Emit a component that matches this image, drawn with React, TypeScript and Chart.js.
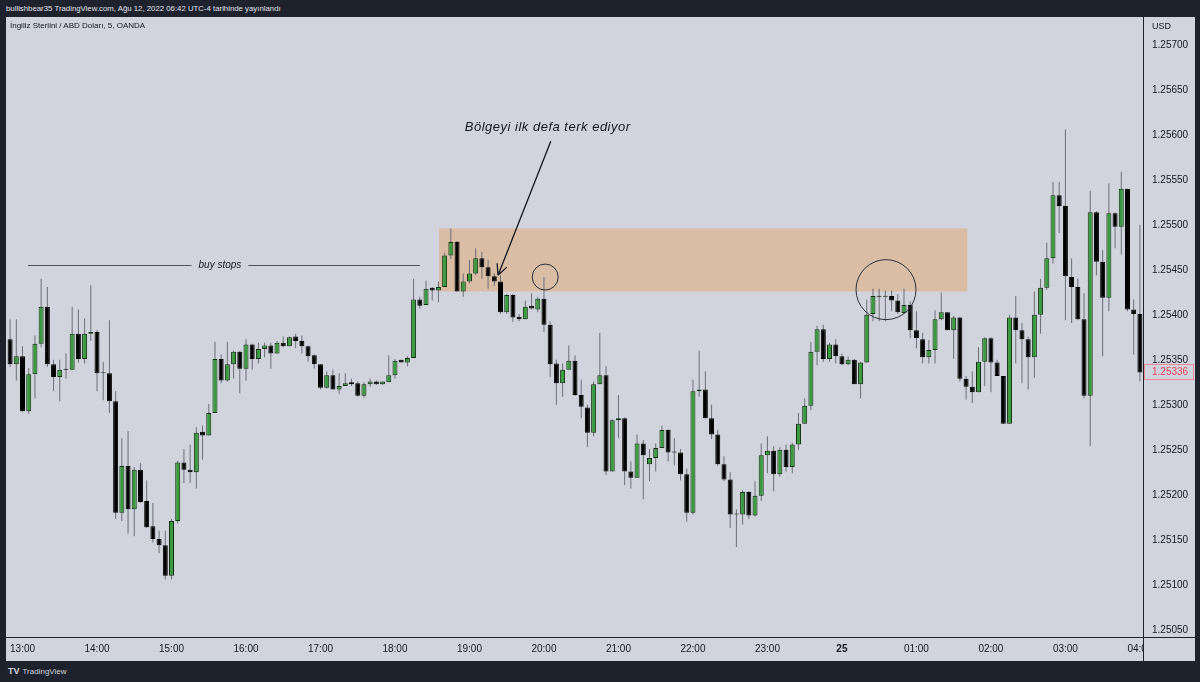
import React, { useEffect, useRef } from "react";
import { Chart, registerables } from "chart.js";
Chart.register(...registerables);

const FONT = "Liberation Sans";

// ---- data (GBP/USD, 5 min, 12:50 -> 04:00) ----
const START_TIME = "12:50";
const STEP_MINUTES = 5;

const opens = [
  1.25373, 1.25345, 1.25354, 1.25293, 1.25334, 1.25368, 1.25409, 1.25345, 1.25331, 1.2534,
  1.25339, 1.25379, 1.25351, 1.25379, 1.25381, 1.25335, 1.25335, 1.25304, 1.2518, 1.25232,
  1.25184, 1.25228, 1.25193, 1.25165, 1.25151, 1.25144, 1.2511, 1.25171, 1.25236, 1.25228,
  1.25225, 1.2527, 1.25266, 1.25291, 1.25351, 1.25327, 1.25345, 1.25359, 1.2534, 1.25367,
  1.25351, 1.25362, 1.25366, 1.25357, 1.25369, 1.25365, 1.25376, 1.25371, 1.25365, 1.25355,
  1.25345, 1.25319, 1.25333, 1.25317, 1.25321, 1.25325, 1.25324, 1.2531, 1.25323, 1.25326,
  1.25323, 1.25325, 1.25333, 1.2535, 1.25347, 1.25352, 1.25417, 1.25411, 1.2543, 1.25427,
  1.25431, 1.25466, 1.25481, 1.25426, 1.25437, 1.25446, 1.25463, 1.25453, 1.25443, 1.25437,
  1.25403, 1.25422, 1.25398, 1.25395, 1.2541, 1.25406, 1.25418, 1.25389, 1.25346, 1.25324,
  1.25339, 1.25349, 1.25311, 1.25297, 1.25269, 1.25323, 1.25333, 1.25226, 1.25283, 1.25285,
  1.25226, 1.25219, 1.25257, 1.25234, 1.25241, 1.25252, 1.25272, 1.25248, 1.25247, 1.25223,
  1.2518, 1.25315, 1.25317, 1.25285, 1.25267, 1.25234, 1.25217, 1.25178, 1.25178, 1.25203,
  1.25177, 1.25199, 1.25244, 1.25249, 1.25223, 1.2525, 1.25231, 1.25256, 1.25279, 1.25299,
  1.25359, 1.25384, 1.25351, 1.25367, 1.25354, 1.25345, 1.2535, 1.25323, 1.25347, 1.25401,
  1.25421, 1.2542, 1.25421, 1.25416, 1.25402, 1.25411, 1.25383, 1.25373, 1.25353, 1.25361,
  1.25395, 1.25403, 1.25383, 1.25397, 1.25329, 1.2532, 1.25314, 1.25348, 1.25374, 1.25347,
  1.25332, 1.25279, 1.25397, 1.25383, 1.25373, 1.25353, 1.254, 1.2543, 1.25463, 1.25533,
  1.25521, 1.25442, 1.25431, 1.25395, 1.2531, 1.25514, 1.25459, 1.25419, 1.25513, 1.25498,
  1.2554, 1.25406, 1.25401,
];

const highs = [
  1.25395, 1.25395, 1.25365, 1.25341, 1.25377, 1.2544, 1.25431, 1.2535, 1.2535, 1.25357,
  1.25409, 1.25406, 1.25396, 1.25433, 1.25383, 1.25348, 1.25394, 1.25315, 1.25263, 1.25271,
  1.25231, 1.25235, 1.25216, 1.25191, 1.2516, 1.2516, 1.25173, 1.25238, 1.25251, 1.25256,
  1.25275, 1.25277, 1.25301, 1.2537, 1.25356, 1.2537, 1.2536, 1.2536, 1.25373, 1.25368,
  1.25369, 1.25369, 1.25369, 1.25371, 1.25376, 1.25376, 1.25379, 1.25377, 1.25366, 1.25356,
  1.25345, 1.25337, 1.25339, 1.25335, 1.25335, 1.25329, 1.25326, 1.25325, 1.25329, 1.25327,
  1.25326, 1.25355, 1.25351, 1.2535, 1.25354, 1.2544, 1.2542, 1.25438, 1.25431, 1.25437,
  1.25469, 1.25496, 1.25482, 1.25446, 1.25461, 1.25474, 1.2547, 1.25461, 1.25446, 1.25444,
  1.25423, 1.25423, 1.25401, 1.25416, 1.25424, 1.2542, 1.25442, 1.25393, 1.2535, 1.25346,
  1.25366, 1.25355, 1.25328, 1.253, 1.25326, 1.2538, 1.25343, 1.25284, 1.25311, 1.25286,
  1.25237, 1.25267, 1.25261, 1.25251, 1.25257, 1.25277, 1.25273, 1.25263, 1.25251, 1.25229,
  1.25328, 1.2536, 1.25337, 1.253, 1.25272, 1.25243, 1.25225, 1.25184, 1.25205, 1.25204,
  1.25215, 1.25257, 1.25265, 1.25254, 1.25253, 1.25256, 1.25258, 1.25291, 1.25307, 1.2537,
  1.25388, 1.25389, 1.25369, 1.25373, 1.25357, 1.25354, 1.25351, 1.25348, 1.25417, 1.25429,
  1.25429, 1.25427, 1.25427, 1.25423, 1.25429, 1.25415, 1.25404, 1.2538, 1.25372, 1.25405,
  1.25425, 1.25403, 1.25399, 1.25398, 1.25332, 1.25337, 1.25364, 1.25375, 1.25375, 1.2535,
  1.25332, 1.254, 1.25421, 1.25391, 1.25376, 1.25426, 1.2544, 1.2548, 1.25548, 1.25548,
  1.25606, 1.25463, 1.2544, 1.25424, 1.25538, 1.25515, 1.25472, 1.25546, 1.25514, 1.25559,
  1.2554, 1.25417, 1.255,
];

const lows = [
  1.25342, 1.25327, 1.25292, 1.2529, 1.25307, 1.25364, 1.25342, 1.25315, 1.25304, 1.25329,
  1.25339, 1.25347, 1.25346, 1.25371, 1.25315, 1.25305, 1.25291, 1.25173, 1.25171, 1.25157,
  1.25154, 1.25191, 1.25163, 1.25147, 1.25135, 1.25106, 1.25106, 1.25168, 1.25213, 1.25213,
  1.25207, 1.25239, 1.25266, 1.25291, 1.25324, 1.25326, 1.25329, 1.25313, 1.25327, 1.25339,
  1.25346, 1.25353, 1.2534, 1.25357, 1.25364, 1.25365, 1.25363, 1.25357, 1.25348, 1.2534,
  1.25317, 1.25318, 1.25317, 1.25312, 1.25321, 1.25321, 1.25309, 1.25308, 1.2532, 1.25322,
  1.25322, 1.25325, 1.25329, 1.25347, 1.25343, 1.25352, 1.25407, 1.25411, 1.25416, 1.25414,
  1.25431, 1.25462, 1.25426, 1.2542, 1.25435, 1.25444, 1.2544, 1.25429, 1.25432, 1.25401,
  1.25401, 1.25392, 1.25393, 1.25395, 1.25406, 1.25403, 1.25381, 1.25331, 1.253, 1.25309,
  1.25339, 1.2531, 1.25285, 1.25253, 1.25265, 1.25323, 1.25222, 1.25226, 1.25263, 1.25211,
  1.25207, 1.25219, 1.25195, 1.25215, 1.25226, 1.25252, 1.25237, 1.25233, 1.25216, 1.2517,
  1.25178, 1.25309, 1.25285, 1.25262, 1.25232, 1.25215, 1.25163, 1.25142, 1.25167, 1.25173,
  1.25176, 1.25193, 1.25224, 1.25204, 1.2522, 1.25226, 1.25224, 1.2525, 1.25279, 1.25294,
  1.25344, 1.25348, 1.25348, 1.25346, 1.25344, 1.25344, 1.25323, 1.25307, 1.25347, 1.25393,
  1.25393, 1.25393, 1.25404, 1.25401, 1.25401, 1.25374, 1.25363, 1.25346, 1.25346, 1.25346,
  1.25394, 1.25383, 1.25351, 1.25326, 1.25306, 1.25302, 1.25314, 1.25321, 1.25314, 1.25332,
  1.25279, 1.25279, 1.25346, 1.25324, 1.25317, 1.2533, 1.25379, 1.25428, 1.25457, 1.25491,
  1.25394, 1.25391, 1.25394, 1.25307, 1.25254, 1.25444, 1.25354, 1.25404, 1.25474, 1.25467,
  1.25404, 1.25356, 1.25326,
];

const closes = [
  1.25345, 1.25354, 1.25293, 1.25334, 1.25368, 1.25409, 1.25345, 1.25331, 1.25339, 1.25339,
  1.25379, 1.25351, 1.25379, 1.25381, 1.25335, 1.25335, 1.25304, 1.2518, 1.25232, 1.25184,
  1.25228, 1.25192, 1.25164, 1.25151, 1.25144, 1.2511, 1.25171, 1.25236, 1.25228, 1.25225,
  1.25269, 1.25266, 1.25291, 1.25351, 1.25327, 1.25345, 1.25359, 1.2534, 1.25367, 1.25351,
  1.25362, 1.25366, 1.25357, 1.25369, 1.25365, 1.25375, 1.25371, 1.25365, 1.25354, 1.25345,
  1.25319, 1.25333, 1.25317, 1.25321, 1.25324, 1.25323, 1.2531, 1.25323, 1.25326, 1.25323,
  1.25326, 1.25333, 1.25349, 1.25347, 1.25352, 1.25417, 1.2541, 1.25429, 1.25427, 1.25431,
  1.25466, 1.25481, 1.25426, 1.25437, 1.25446, 1.25463, 1.25453, 1.25443, 1.25437, 1.25403,
  1.25422, 1.25397, 1.25395, 1.25409, 1.25407, 1.25418, 1.25389, 1.25345, 1.25324, 1.25339,
  1.25349, 1.25311, 1.25298, 1.25269, 1.25323, 1.25333, 1.25226, 1.25283, 1.25285, 1.25226,
  1.25219, 1.25257, 1.25244, 1.25241, 1.25252, 1.25272, 1.25247, 1.25247, 1.25223, 1.2518,
  1.25315, 1.25317, 1.25285, 1.25267, 1.25234, 1.25217, 1.25178, 1.25178, 1.25203, 1.25177,
  1.25199, 1.25244, 1.25249, 1.25223, 1.2525, 1.25231, 1.25256, 1.25279, 1.25299, 1.25359,
  1.25384, 1.25351, 1.25367, 1.25354, 1.25345, 1.2535, 1.25323, 1.25347, 1.254, 1.25421,
  1.2542, 1.25421, 1.25416, 1.25403, 1.25411, 1.25383, 1.25374, 1.25353, 1.25361, 1.25395,
  1.25403, 1.25383, 1.25397, 1.25329, 1.2532, 1.25314, 1.25348, 1.25374, 1.25347, 1.25332,
  1.25279, 1.25397, 1.25383, 1.25373, 1.25353, 1.254, 1.2543, 1.25463, 1.25533, 1.25521,
  1.25443, 1.25431, 1.25395, 1.2531, 1.25514, 1.25459, 1.25419, 1.25513, 1.25498, 1.2554,
  1.25406, 1.25401, 1.25336,
];

const xTickLabels = [
  "13:00", "14:00", "15:00", "16:00", "17:00", "18:00", "19:00", "20:00", "21:00",
  "22:00", "23:00", "25", "01:00", "02:00", "03:00", "04:00",
];

const yTicks = [
  1.2505, 1.251, 1.2515, 1.252, 1.2525, 1.253, 1.2535, 1.254, 1.2545, 1.255, 1.2555,
  1.256, 1.2565, 1.257,
];

const Y_MIN = 1.25042;
const Y_MAX = 1.25731;

// annotations (in data space: candle index / price)
const zoneStart = 69.1;
const zoneEnd = 154.2;
const zoneTop = 1.25496;
const zoneBottom = 1.25426;

const buyStopsFrom = 2.9;
const buyStopsTo = 66.0;
const buyStopsPrice = 1.25455;
const buyStopsLabelAt = 33.8;
const buyStopsText = "buy stops";

const noteText = "Bölgeyi ilk defa terk ediyor";
const noteAt = 86.6;
const notePrice = 1.25608;
const arrowFrom = [87.1, 1.25593];
const arrowTo = [78.6, 1.25444];

const smallCircle = [86.2, 1.25442];
const bigCircle = [141.1, 1.25428];

// ---- derived ----
const times = opens.map((_, i) => {
  const [h0, m0] = START_TIME.split(":").map(Number);
  const m = (h0 * 60 + m0 + i * STEP_MINUTES) % 1440;
  return `${String(Math.floor(m / 60)).padStart(2, "0")}:${String(m % 60).padStart(2, "0")}`;
});
const tickLabelFor = (i: number) => {
  const t = times[i];
  const lab = t === "00:00" ? "25" : t;
  return xTickLabels.includes(lab) ? lab : "";
};

const BG = "#d1d4dc";
const FRAME = "#1e222d";
const UP = "#3b9a3f";
const UP_BORDER = "#123112";
const DOWN = "#000000";
const WICK = "#6c6f78";

export default function App() {
  const ref = useRef<HTMLCanvasElement | null>(null);

  useEffect(() => {
    if (!ref.current) return;
    const up = closes.map((c, i) => c >= opens[i]);

    const annotPlugin = {
      id: "annot",
      beforeDatasetsDraw(chart: any) {
        const { ctx, chartArea, width, height } = chart;
        const xs = chart.scales.x;
        const ys = chart.scales.y;
        ctx.save();
        ctx.fillStyle = BG;
        ctx.fillRect(chartArea.right + 1, chartArea.bottom + 1, width - chartArea.right, height - chartArea.bottom);
        const x1 = xs.getPixelForValue(zoneStart);
        const x2 = xs.getPixelForValue(zoneEnd);
        const y1 = ys.getPixelForValue(zoneTop);
        const y2 = ys.getPixelForValue(zoneBottom);
        ctx.fillStyle = "rgba(245,124,0,0.25)";
        ctx.fillRect(x1, y1, x2 - x1, y2 - y1);
        ctx.restore();
      },
      afterDatasetsDraw(chart: any) {
        const { ctx } = chart;
        const xs = chart.scales.x;
        const ys = chart.scales.y;
        ctx.save();
        ctx.font = `italic 10px "${FONT}"`;
        const tw = ctx.measureText(buyStopsText).width;
        const ly = Math.round(ys.getPixelForValue(buyStopsPrice)) + 0.5;
        const lx1 = xs.getPixelForValue(buyStopsFrom);
        const lx2 = xs.getPixelForValue(buyStopsTo);
        const tx = xs.getPixelForValue(buyStopsLabelAt);
        ctx.strokeStyle = "#50535e";
        ctx.lineWidth = 1;
        ctx.beginPath();
        ctx.moveTo(lx1, ly);
        ctx.lineTo(tx - tw / 2 - 7, ly);
        ctx.moveTo(tx + tw / 2 + 7, ly);
        ctx.lineTo(lx2, ly);
        ctx.stroke();
        ctx.fillStyle = "#131722";
        ctx.textAlign = "center";
        ctx.textBaseline = "middle";
        ctx.fillText(buyStopsText, tx, ly);

        ctx.font = `italic 13px "${FONT}"`;
        try {
          (ctx as any).letterSpacing = "0.5px";
        } catch (e) {}
        ctx.fillText(noteText, xs.getPixelForValue(noteAt), ys.getPixelForValue(notePrice));
        try {
          (ctx as any).letterSpacing = "0px";
        } catch (e) {}

        const ax1 = xs.getPixelForValue(arrowFrom[0]);
        const ay1 = ys.getPixelForValue(arrowFrom[1]);
        const ax2 = xs.getPixelForValue(arrowTo[0]);
        const ay2 = ys.getPixelForValue(arrowTo[1]);
        ctx.strokeStyle = "#131722";
        ctx.lineWidth = 1.3;
        ctx.beginPath();
        ctx.moveTo(ax1, ay1);
        ctx.lineTo(ax2, ay2);
        const ang = Math.atan2(ay2 - ay1, ax2 - ax1);
        const hl = 12;
        ctx.moveTo(ax2, ay2);
        ctx.lineTo(ax2 - hl * Math.cos(ang - 0.45), ay2 - hl * Math.sin(ang - 0.45));
        ctx.moveTo(ax2, ay2);
        ctx.lineTo(ax2 - hl * Math.cos(ang + 0.45), ay2 - hl * Math.sin(ang + 0.45));
        ctx.stroke();

        ctx.strokeStyle = "#2a2e39";
        ctx.lineWidth = 1;
        ctx.beginPath();
        ctx.arc(xs.getPixelForValue(smallCircle[0]), ys.getPixelForValue(smallCircle[1]), 13, 0, Math.PI * 2);
        ctx.stroke();
        ctx.beginPath();
        ctx.arc(xs.getPixelForValue(bigCircle[0]), ys.getPixelForValue(bigCircle[1]), 30, 0, Math.PI * 2);
        ctx.stroke();
        ctx.restore();
      },
      afterDraw(chart: any) {
        const { ctx, chartArea, width, height } = chart;
        const ys = chart.scales.y;
        ctx.save();
        ctx.strokeStyle = FRAME;
        ctx.lineWidth = 1;
        ctx.beginPath();
        ctx.moveTo(Math.round(chartArea.right) + 0.5, 0);
        ctx.lineTo(Math.round(chartArea.right) + 0.5, height);
        ctx.moveTo(0, Math.round(chartArea.bottom) + 0.5);
        ctx.lineTo(width, Math.round(chartArea.bottom) + 0.5);
        ctx.stroke();
        const last = closes[closes.length - 1];
        const py = Math.round(ys.getPixelForValue(last));
        const bx = Math.round(chartArea.right) + 1.5;
        ctx.fillStyle = BG;
        ctx.fillRect(bx, py - 7.5, width - bx - 1.5, 15);
        ctx.strokeStyle = "#f08a9b";
        ctx.strokeRect(bx, py - 7.5, width - bx - 1.5, 15);
        ctx.fillStyle = "#e8455f";
        ctx.font = `10px "${FONT}"`;
        ctx.textAlign = "left";
        ctx.textBaseline = "middle";
        ctx.fillText(last.toFixed(5), chartArea.right + 9, py + 0.5);
        ctx.restore();
      },
    };

    const chart = new Chart(ref.current, {
      type: "bar",
      data: {
        labels: times,
        datasets: [
          {
            label: "body",
            data: opens.map((o, i) => [o, closes[i]]) as any,
            backgroundColor: up.map((u) => (u ? UP : DOWN)),
            borderColor: up.map((u) => (u ? UP_BORDER : DOWN)),
            borderWidth: 1,
            borderSkipped: false,
            barThickness: 5,
            minBarLength: 1,
            inflateAmount: 0,
            grouped: false,
            order: 0,
          } as any,
          {
            label: "wick",
            data: lows.map((l, i) => [l, highs[i]]) as any,
            backgroundColor: WICK,
            borderWidth: 0,
            barThickness: 1,
            inflateAmount: 0,
            grouped: false,
            order: 1,
          } as any,
        ],
      },
      options: {
        responsive: false,
        animation: false,
        devicePixelRatio: 1,
        events: [],
        layout: { padding: { left: 1, right: 0, top: 0, bottom: 0 }, autoPadding: false },
        plugins: { legend: { display: false }, tooltip: { enabled: false } },
        scales: {
          x: {
            type: "category",
            offset: true,
            grid: { display: false, drawTicks: false },
            border: { display: true, color: FRAME, width: 1 },
            ticks: {
              autoSkip: false,
              maxRotation: 0,
              minRotation: 0,
              padding: 6,
              color: "#131722",
              font: (c: any) => ({
                family: FONT,
                size: 10,
                weight: times[c.index] === "00:00" ? "bold" : "normal",
              }),
              callback: (_v: any, i: number) => tickLabelFor(i),
            },
            afterFit: (s: any) => {
              s.height = 24;
              s.paddingLeft = 0;
              s.paddingRight = 0;
            },
          },
          y: {
            type: "linear",
            position: "right",
            min: Y_MIN,
            max: Y_MAX,
            grid: { display: false, drawTicks: false },
            border: { display: true, color: FRAME, width: 1 },
            ticks: {
              padding: 9,
              color: "#131722",
              font: { family: FONT, size: 10 },
              callback: (v: any) => Number(v).toFixed(5),
            },
            afterBuildTicks: (s: any) => {
              s.ticks = yTicks.map((value) => ({ value }));
            },
            afterFit: (s: any) => {
              s.width = 52;
              s.paddingTop = 0;
              s.paddingBottom = 0;
            },
          },
        },
      } as any,
      plugins: [annotPlugin],
    });
    return () => chart.destroy();
  }, []);

  return (
    <div
      style={{
        position: "fixed",
        left: 0,
        top: 0,
        width: 1200,
        height: 682,
        background: FRAME,
        overflow: "hidden",
        fontFamily: FONT,
      }}
    >
      <div
        style={{
          position: "absolute",
          left: 6,
          top: 3,
          fontSize: 7.8,
          lineHeight: "11px",
          color: "#e0e3eb",
          whiteSpace: "nowrap",
        }}
      >
        bullishbear35 TradingView.com, Ağu 12, 2022 06:42 UTC-4 tarihinde yayınlandı
      </div>
      <div
        style={{
          position: "absolute",
          left: 6,
          top: 17,
          width: 1189,
          height: 644,
          background: BG,
        }}
      >
        <canvas ref={ref} width={1189} height={644} style={{ display: "block", width: 1189, height: 644 }} />
        <div
          style={{
            position: "absolute",
            left: 4,
            top: 3,
            fontSize: 8,
            lineHeight: "11px",
            color: "#131722",
            whiteSpace: "nowrap",
          }}
        >
          İngiliz Sterlini / ABD Doları, 5, OANDA
        </div>
        <div
          style={{
            position: "absolute",
            left: 1146,
            top: 3,
            fontSize: 9,
            lineHeight: "12px",
            color: "#131722",
          }}
        >
          USD
        </div>
      </div>
      <div
        style={{
          position: "absolute",
          left: 8,
          top: 665,
          fontSize: 8,
          lineHeight: "12px",
          color: "#d1d4dc",
          whiteSpace: "nowrap",
        }}
      >
        <span style={{ fontWeight: "bold", fontSize: 9, marginRight: 3 }}>TV</span>TradingView
      </div>
    </div>
  );
}
